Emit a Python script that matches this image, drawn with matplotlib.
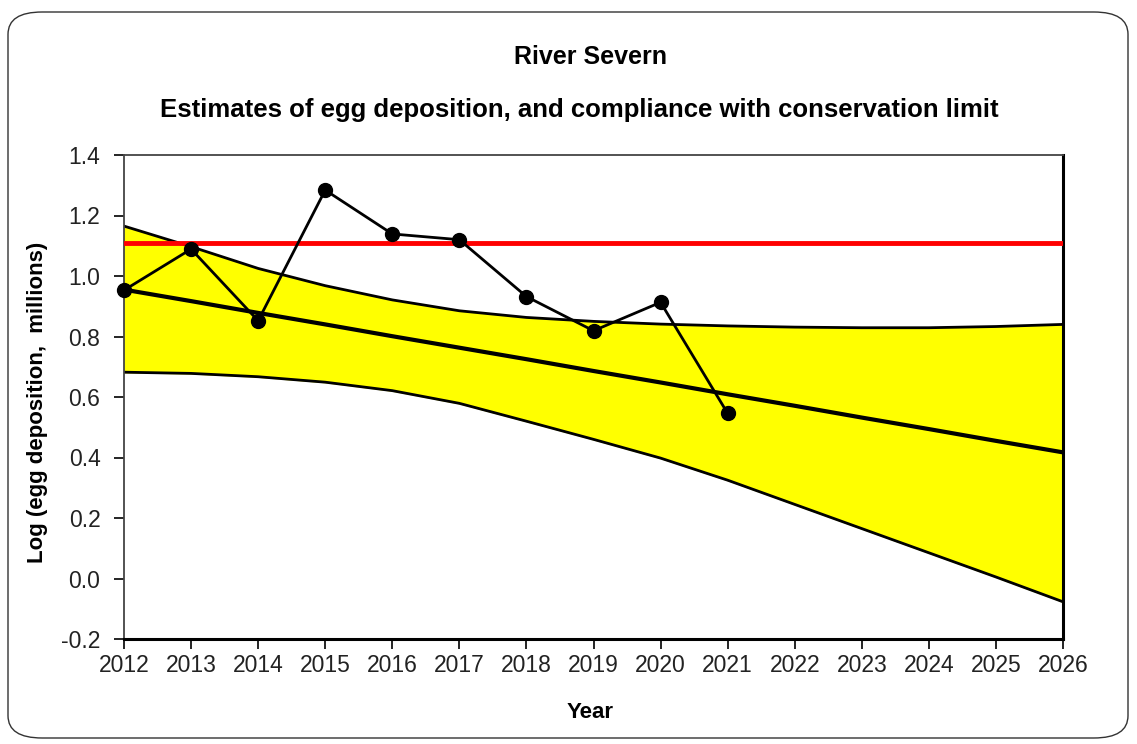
import matplotlib
matplotlib.use("Agg")
import matplotlib.pyplot as plt
from matplotlib.patches import FancyBboxPatch

plt.rcParams['font.family'] = ['Liberation Sans', 'DejaVu Sans']

years_obs = [2012, 2013, 2014, 2015, 2016, 2017, 2018, 2019, 2020, 2021]
egg_obs = [0.953, 1.089, 0.852, 1.284, 1.139, 1.120, 0.932, 0.819, 0.913, 0.546]

years_trend = [2012, 2013, 2014, 2015, 2016, 2017, 2018, 2019, 2020, 2021,
               2022, 2023, 2024, 2025, 2026]
trend_mean = [0.955, 0.917, 0.878, 0.840, 0.801, 0.763, 0.725, 0.686, 0.648,
              0.609, 0.571, 0.532, 0.494, 0.455, 0.417]
trend_upper = [1.165, 1.097, 1.025, 0.968, 0.921, 0.885, 0.863, 0.850, 0.841,
               0.835, 0.831, 0.829, 0.829, 0.833, 0.840]
trend_lower = [0.682, 0.678, 0.667, 0.649, 0.621, 0.579, 0.520, 0.460, 0.398,
               0.325, 0.245, 0.165, 0.085, 0.005, -0.077]
conservation_limit = 1.110

xticks = list(range(2012, 2027))
yticks = [-0.2, 0.0, 0.2, 0.4, 0.6, 0.8, 1.0, 1.2, 1.4]

fig = plt.figure(figsize=(11.37, 7.44), dpi=100)
border = FancyBboxPatch((8 / 1137, 6 / 744), 1120 / 1137, 726 / 744,
                        boxstyle="round,pad=0,rounding_size=0.03",
                        transform=fig.transFigure, facecolor='none',
                        edgecolor='#333333', linewidth=1.0, zorder=-5)
fig.patches.append(border)

ax = fig.add_axes([124 / 1137, 1 - 639 / 744, 939 / 1137, 484 / 744])
ax.set_facecolor('none')

ax.fill_between(years_trend, trend_lower, trend_upper, color='#ffff00', zorder=1)
ax.plot(years_trend, trend_upper, color='black', lw=2, zorder=2)
ax.plot(years_trend, trend_lower, color='black', lw=2, zorder=2)
ax.plot(years_trend, trend_mean, color='black', lw=3, zorder=3)
ax.axhline(conservation_limit, color='#ff0000', lw=3.5, zorder=4)
ax.plot(years_obs, egg_obs, color='black', lw=2, marker='o', markersize=10,
        zorder=5, clip_on=False)

ax.set_xlim(2012, 2026)
ax.set_ylim(-0.2, 1.4)
ax.set_xticks(xticks)
ax.set_yticks(yticks)
ax.set_yticklabels([f"{v:.1f}" for v in yticks])
ax.tick_params(axis='both', direction='out', length=7, width=1.2, labelsize=16.5,
               colors='black', labelcolor='#222222')
ax.tick_params(axis='x', pad=4)
ax.tick_params(axis='y', pad=10)

for side in ['left', 'top']:
    ax.spines[side].set_color('#444444')
    ax.spines[side].set_linewidth(1.3)
ax.spines['bottom'].set_color('black')
ax.spines['bottom'].set_linewidth(2.2)
ax.spines['right'].set_color('black')
ax.spines['right'].set_linewidth(2.2)

ax.set_xlabel('Year', fontsize=16, fontweight='bold')
ax.xaxis.label.set_va('center')
ax.xaxis.set_label_coords((590 - 124) / 939, (639 - 712) / 484)
ax.set_ylabel('Log (egg deposition,  millions)', fontsize=16, fontweight='bold')
ax.yaxis.label.set_va('center')
ax.yaxis.set_label_coords((38 - 124) / 939, (639 - 402) / 484)

fig.text(590 / 1137, 1 - 57 / 744, 'River Severn', ha='center', va='center',
         fontsize=18, fontweight='bold')
fig.text(579 / 1137, 1 - 110 / 744,
         'Estimates of egg deposition, and compliance with conservation limit',
         ha='center', va='center', fontsize=18.5, fontweight='bold')

fig.savefig('out.png', dpi=100)
